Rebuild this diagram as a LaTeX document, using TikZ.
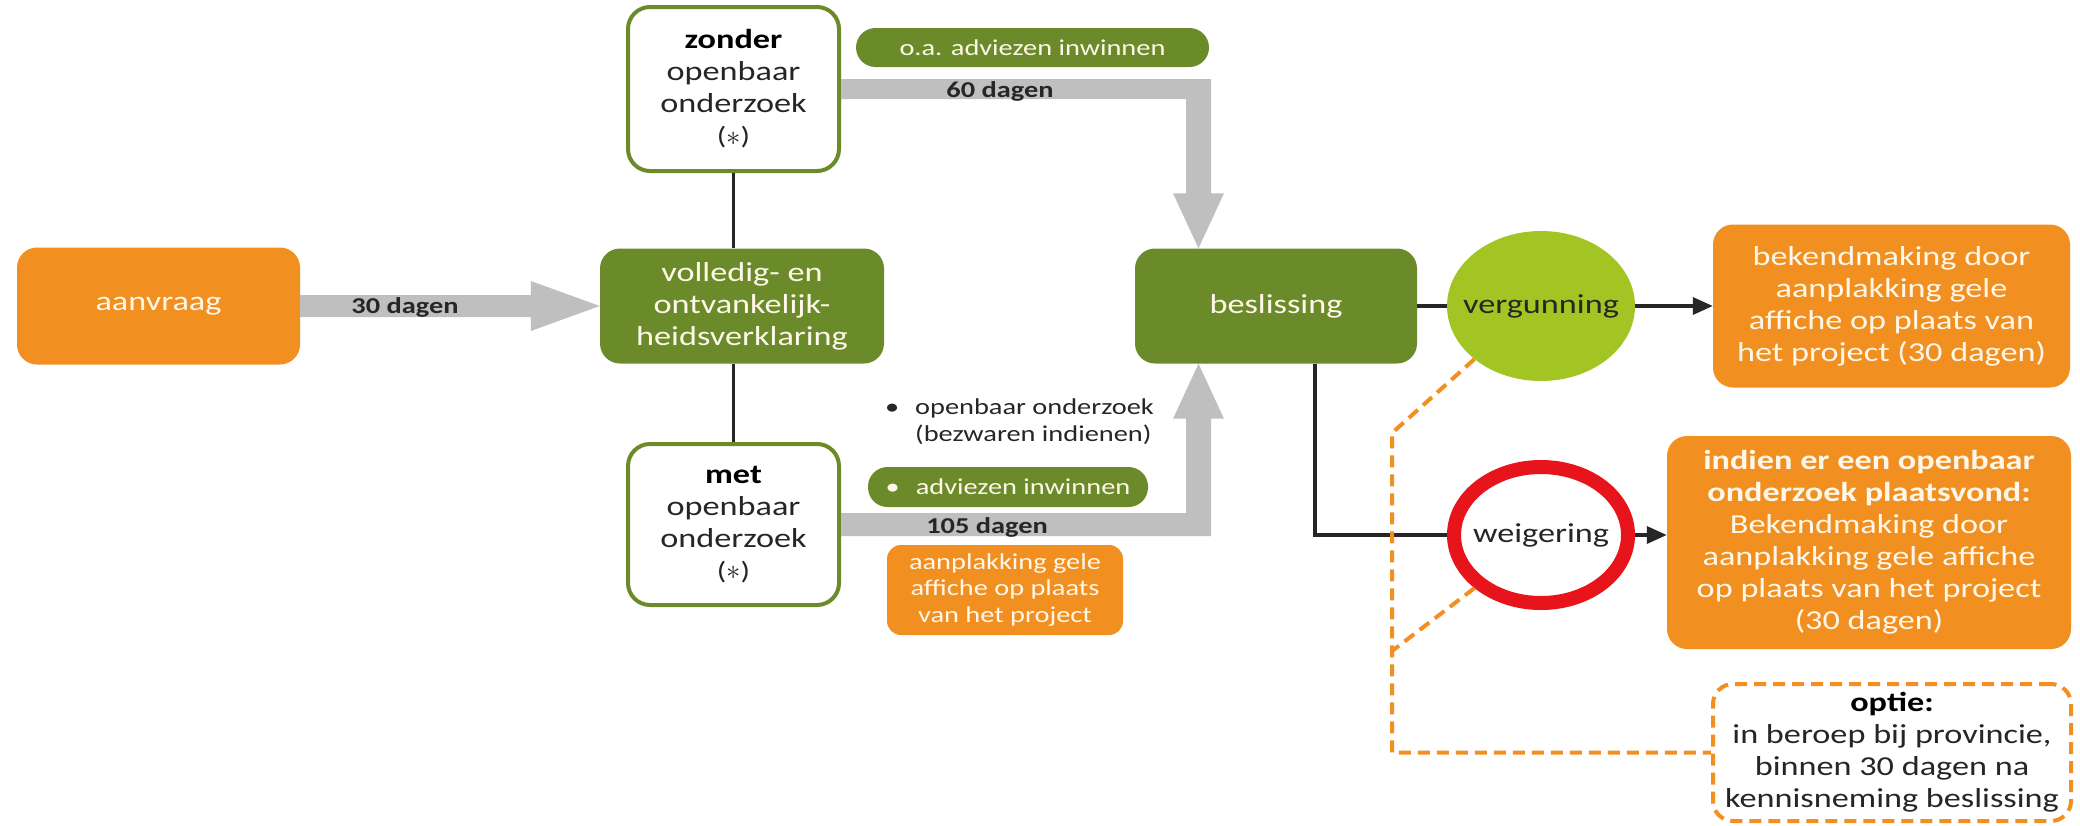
\documentclass[tikz,border=0pt]{standalone}
\usepackage{fontspec}
\setmainfont{Carlito}[FakeStretch=1.25]
\usetikzlibrary{calc,arrows.meta,shapes.geometric}
\definecolor{vgreen}{HTML}{6B8B2B}
\definecolor{vorange}{HTML}{F18F21}
\definecolor{vlight}{HTML}{A2C523}
\definecolor{vgray}{HTML}{BFBFBF}
\definecolor{vred}{HTML}{E8141B}
\definecolor{vdark}{HTML}{262626}
\definecolor{vcream}{HTML}{FFF8EA}
\tikzset{
  bigfont/.style={font=\fontsize{27.4}{32}\selectfont},
  smallfont/.style={font=\fontsize{22.7}{26.5}\selectfont},
  gbox/.style={rectangle, rounded corners=20pt, fill=vgreen, text=vcream, align=center, bigfont, inner sep=0pt},
  obox/.style={rectangle, rounded corners=20pt, fill=vorange, text=vcream, align=center, bigfont, inner sep=0pt},
  wbox/.style={rectangle, rounded corners=22pt, draw=vgreen, line width=4pt, fill=white, text=vdark, align=center, bigfont, inner sep=0pt},
  pillbox/.style={rectangle, rounded corners=19.5pt, fill=vgreen, text=vcream, smallfont, inner sep=0pt},
  daglabel/.style={font=\fontsize{22.7}{26}\selectfont\bfseries, text=vdark, inner sep=0pt},
  bline/.style={draw=vdark, line width=3.5pt},
  tline/.style={draw=vdark, line width=2.5pt},
  odash/.style={draw=vorange, line width=4pt, dash pattern=on 12pt off 7pt},
  tip/.style={-{Triangle[length=20pt,width=17pt]}},
}
\newcommand{\astx}{{\fontsize{25}{28}\selectfont(\raisebox{-0.5pt}{\scalebox{1.15}{$\ast$}})}}
\begin{document}
\begin{tikzpicture}[x=1pt,y=-1pt]
\useasboundingbox (0,0) rectangle (2080,825);
\fill[white] (0,0) rectangle (2080,825);

% main nodes
\node[obox, minimum width=283pt, minimum height=117pt] (aanvraag) at (158.5,306) {aanvraag};
\node[gbox, minimum width=284pt, minimum height=115pt] (volledig) at (742,306) {volledig- en\\ontvankelijk-\\heidsverklaring};
\node[wbox, minimum width=211pt, minimum height=164pt] (zonder) at (733.5,89) {\textbf{\color{black}zonder}\\openbaar\\onderzoek\\\astx};
\node[wbox, minimum width=211pt, minimum height=161pt] (met) at (733.5,524.5) {\textbf{\color{black}met}\\openbaar\\onderzoek\\\astx};
\node[gbox, minimum width=282pt, minimum height=115pt] (beslissing) at (1276,306) {beslissing};
\node[ellipse, fill=vlight, minimum width=188pt, minimum height=150pt, inner sep=0pt, text=vdark, bigfont] (vergunning) at (1541,306) {\makebox[0pt]{vergunning}};
\node[ellipse, draw=vred, line width=14pt, fill=white, minimum width=174pt, minimum height=136pt, inner sep=0pt, text=vdark, bigfont] (weigering) at (1541,535) {\makebox[0pt]{weigering}};
\node[obox, minimum width=357pt, minimum height=163pt] (box1) at (1891.5,306) {bekendmaking door\\aanplakking gele\\affiche op plaats van\\het project (30 dagen)};
\node[obox, minimum width=404pt, minimum height=213pt] (box2) at (1869,542.5) {\textbf{indien er een openbaar}\\\textbf{onderzoek plaatsvond:}\\Bekendmaking door\\aanplakking gele affiche\\op plaats van het project\\(30 dagen)};
\node[rectangle, rounded corners=20pt, odash, fill=white, minimum width=358pt, minimum height=137pt, inner sep=0pt, align=center, text=vdark, bigfont] (optie) at (1892,752.5) {\textbf{\color{black}optie:}\\in beroep bij provincie,\\binnen 30 dagen na\\kennisneming beslissing};

% side notes
\node[pillbox, minimum width=353pt, minimum height=39pt] (pill1) at (1032.5,47.5) {o.a. adviezen inwinnen};
\node[pillbox, minimum width=280pt, minimum height=40pt] (pill2) at (1008,487) {•\hspace{16pt}adviezen inwinnen};
\node[rectangle, rounded corners=14pt, fill=vorange, text=vcream, align=center, smallfont, inner sep=0pt, minimum width=236pt, minimum height=90pt] (oplak) at (1005,590) {aanplakking gele\\affiche op plaats\\van het project};
\node[anchor=west, inner sep=0pt, align=left, text=vdark, smallfont] (bullets) at (883,421.5) {\makebox[32pt][l]{\hspace{2pt}•}openbaar onderzoek\\\hspace*{32pt}(bezwaren indienen)};

% gray arrows
\coordinate (ax) at (1198.5,0);
\coordinate (c60) at (ax |- zonder.east);
\coordinate (t60) at (ax |- beslissing.north);
\coordinate (c105) at (ax |- met.east);
\coordinate (t105) at (ax |- beslissing.south);
\fill[vgray] ($(aanvraag.east)+(0,-11)$) -- ($(volledig.west)+(-69,-11)$) -- ($(volledig.west)+(-69,-25)$) -- (volledig.west) -- ($(volledig.west)+(-69,25)$) -- ($(volledig.west)+(-69,11)$) -- ($(aanvraag.east)+(0,11)$) -- cycle;
\fill[vgray] ($(zonder.east)+(0,-10)$) -- ($(c60)+(12.5,-10)$) -- ($(t60)+(12.5,-55)$) -- ($(t60)+(25.5,-55)$) -- (t60) -- ($(t60)+(-25.5,-55)$) -- ($(t60)+(-12.5,-55)$) -- ($(c60)+(-12.5,10)$) -- ($(zonder.east)+(0,10)$) -- cycle;
\fill[vgray] ($(met.east)+(0,11.5)$) -- ($(c105)+(12.5,11.5)$) -- ($(t105)+(12.5,55)$) -- ($(t105)+(25.5,55)$) -- (t105) -- ($(t105)+(-25.5,55)$) -- ($(t105)+(-12.5,55)$) -- ($(c105)+(-12.5,-11.5)$) -- ($(met.east)+(0,-11.5)$) -- cycle;

\node[daglabel] (d30) at (405,307) {30 dagen};
\node[daglabel] (d60) at (1000,91) {60 dagen};
\node[daglabel] (d105) at (987,527) {105 dagen};

% black connectors
\draw[tline] (zonder.south) -- (zonder.south |- volledig.north);
\draw[tline] (met.north |- volledig.south) -- (met.north);
\draw[bline] (beslissing.east) -- (vergunning.west);
\draw[bline, tip] (vergunning.east) -- (box1.west);
\coordinate (bx) at (1315,0);
\draw[bline] (bx |- beslissing.south) |- (weigering.west);
\draw[bline, tip] (weigering.east) -- (weigering.east -| box2.west);

% dashed appeal path
\coordinate (d1) at (1392,433);
\coordinate (d2) at (1392,651);
\draw[odash] (vergunning.south west) -- (d1) -- (d1 |- optie.west) -- (optie.west);
\draw[odash] (weigering.south west) -- (d2);
\end{tikzpicture}
\end{document}
